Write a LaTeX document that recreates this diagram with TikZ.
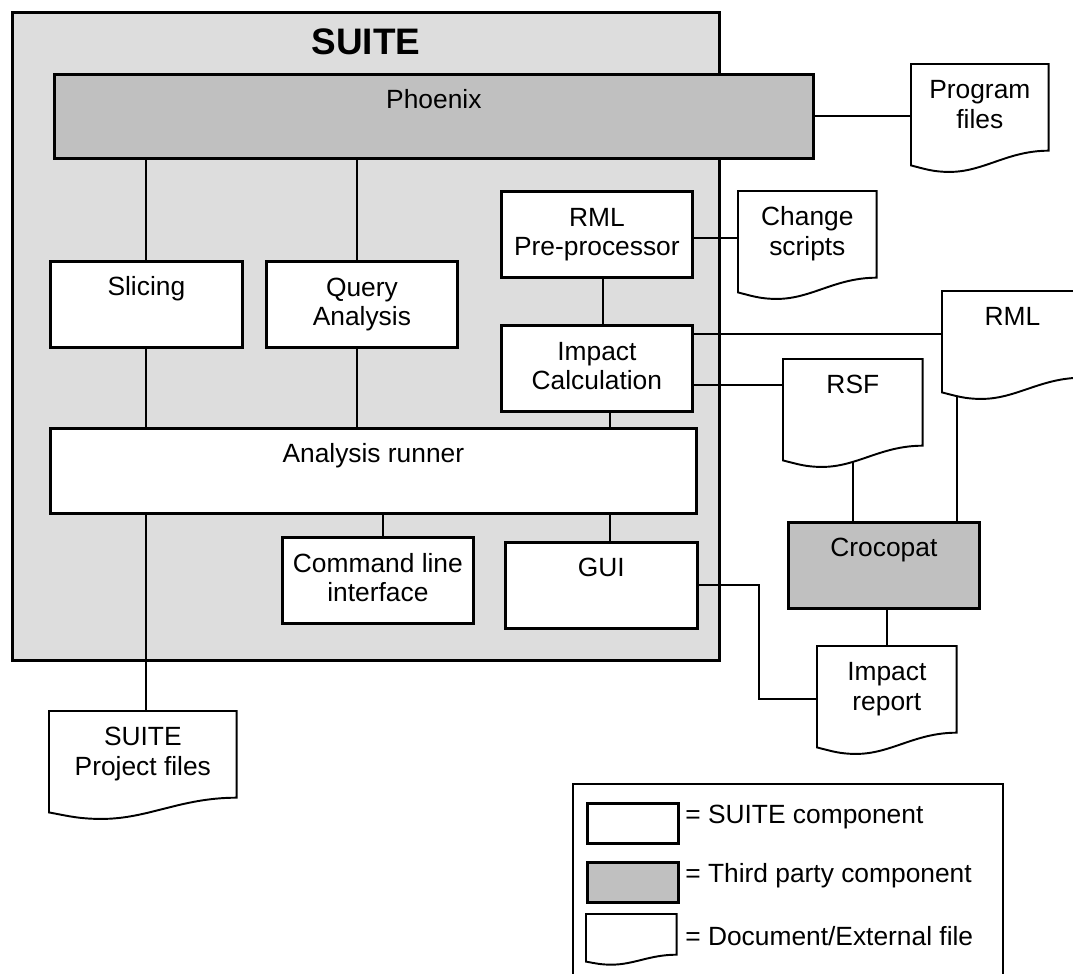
\documentclass[tikz,border=0pt]{standalone}
\usepackage{fontspec}
\setmainfont{Liberation Sans}
\usepackage{xcolor}
\usepackage{tikz}
\usetikzlibrary{calc}

\definecolor{suitegray}{HTML}{DDDDDD}
\definecolor{thirdgray}{HTML}{C0C0C0}

% document outline with wavy bottom round a node
\newcommand{\docshape}[1]{%
  \draw[docline] let \p1=(#1.south west), \p2=(#1.north east),
      \n1={\x2-\x1}, \n2={\y2-\y1} in
    (#1.north west) -- (#1.north east) -- (#1.south east)
    .. controls +({-0.3*\n1},0pt) and +({0.25*\n1},0pt) ..
    ([shift={({0.28*\n1},{-0.245*\n2})}]#1.south west)
    .. controls +({-0.12*\n1},0pt) and +({0.1*\n1},{-0.04*\n2}) ..
    ([shift={(0pt,{-0.17*\n2})}]#1.south west) -- cycle;}

\begin{document}
\begin{tikzpicture}[x=0.02cm, y=-0.02cm,
    every node/.style={font=\fontsize{15}{17}\selectfont},
    comp/.style={draw, fill=white, line width=1.6pt, anchor=north west,
      inner sep=0pt, align=center, minimum width=3.82cm,
      text height=0.69cm, text depth=1.03cm},
    third/.style={comp, fill=thirdgray},
    doc/.style={anchor=north west, inner sep=0pt, align=center,
      minimum width=2.78cm, text height=0.69cm, text depth=1.03cm},
    twoline/.style={text height=1.29cm, text depth=0.43cm},
    docline/.style={line width=1.1pt},
    wire/.style={line width=1.1pt}
    ]
    \clip (0,0) rectangle (1073,974);

    % SUITE container
    \node[draw, fill=suitegray, line width=1.8pt, anchor=north west, inner sep=0pt,
      minimum width=14.14cm, text height=0.84cm, text depth=12.12cm,
      font=\bfseries\fontsize{21}{25}\selectfont] (suite) at (11,11) {SUITE};

    \node[third, minimum width=15.18cm, text depth=0.99cm] (phoenix) at (53,73) {Phoenix};
    \node[comp, minimum width=3.84cm] (slicing) at (49,260) {Slicing};
    \node[comp, twoline] (query) at (265,260) {Query\\Analysis};
    \node[comp, twoline] (rmlpre) at (500,190) {RML\\Pre-processor};
    \node[comp, twoline] (impact) at (500,324) {Impact\\Calculation};
    \node[comp, minimum width=12.92cm, text depth=1.01cm] (runner) at (49,427) {Analysis runner};
    \node[comp, twoline] (cli) at (281,536) {Command line\\interface};
    \node[comp, minimum width=3.84cm] (gui) at (504,541) {GUI};
    \node[third] (crocopat) at (787,521) {Crocopat};

    % documents
    \node[doc, twoline, minimum width=2.74cm] (progfiles) at (911,64) {Program\\files};
    \node[doc, twoline, minimum width=2.76cm] (change) at (738,191) {Change\\scripts};
    \node[doc, minimum width=2.8cm] (rml) at (942,291) {RML};
    \node[doc] (rsf) at (783,359) {RSF};
    \node[doc, twoline] (report) at (817,646) {Impact\\report};
    \node[doc, twoline, minimum width=3.74cm] (project) at (49,711) {SUITE\\Project files};
    \docshape{progfiles}
    \docshape{change}
    \docshape{rml}
    \docshape{rsf}
    \docshape{report}
    \docshape{project}

    % connectors
    \draw[wire] (slicing.north) -- (slicing.north |- phoenix.south);
    \draw[wire] ([xshift=-0.1cm]query.north) -- ([xshift=-0.1cm]query.north |- phoenix.south);
    \draw[wire] (slicing.south) -- (slicing.south |- runner.north);
    \draw[wire] ([xshift=-0.1cm]query.south) -- ([xshift=-0.1cm]query.south |- runner.north);
    \draw[wire] ([xshift=0.13cm]rmlpre.south) -- ([xshift=0.13cm]impact.north);
    \draw[wire] ([xshift=0.27cm]impact.south) -- ([xshift=0.27cm]impact.south |- runner.north);
    \draw[wire] ([xshift=0.11cm]cli.north) -- ([xshift=0.11cm]cli.north |- runner.south);
    \draw[wire] ([xshift=0.18cm]gui.north) -- ([xshift=0.18cm]gui.north |- runner.south);
    \draw[wire] ([xshift=0.07cm]project.north) -- ([xshift=0.07cm]project.north |- runner.south);
    \draw[wire] (phoenix.east) -- (phoenix.east -| progfiles.west);
    \draw[wire] ([yshift=-0.08cm]rmlpre.east) -- ([yshift=-0.08cm]rmlpre.east -| change.west);
    \draw[wire] (impact.east |- rml.west) -- (rml.west);
    \draw[wire] ([yshift=-0.34cm]impact.east) -- ([yshift=-0.34cm]impact.east -| rsf.west);
    \draw[wire] ([yshift=-0.3cm]rsf.south) -- (rsf.south |- crocopat.north);
    \draw[wire] ([xshift=0.3cm,yshift=-0.36cm]rml.south west) -- ([xshift=0.3cm]rml.south west |- crocopat.north);
    \draw[wire] (report.north) -- (report.north |- crocopat.south);
    \draw[wire] (gui.east) -- ++(60,0) |- ([yshift=-0.2cm]report.west);

    % legend
    \node[draw, line width=1.4pt, anchor=north west, inner sep=0pt,
      minimum width=8.6cm, minimum height=4.2cm] (legend) at (572,783) {};
    \node[comp, minimum width=1.82cm, minimum height=0.8cm, text height=0pt, text depth=0pt] (legsuite) at (586,802) {};
    \node[third, minimum width=1.82cm, minimum height=0.8cm, text height=0pt, text depth=0pt] (legthird) at (586,861) {};
    \node[doc, minimum width=1.8cm, minimum height=0.8cm, text height=0pt, text depth=0pt] (legdoc) at (586,914) {};
    \docshape{legdoc}
    \node[anchor=base west, inner sep=0pt] (legsuitetext) at (685,823) {= SUITE component};
    \node[anchor=base west, inner sep=0pt] (legthirdtext) at (685,882) {= Third party component};
    \node[anchor=base west, inner sep=0pt] (legdoctext) at (685,945) {= Document/External file};
  \end{tikzpicture}
\end{document}
